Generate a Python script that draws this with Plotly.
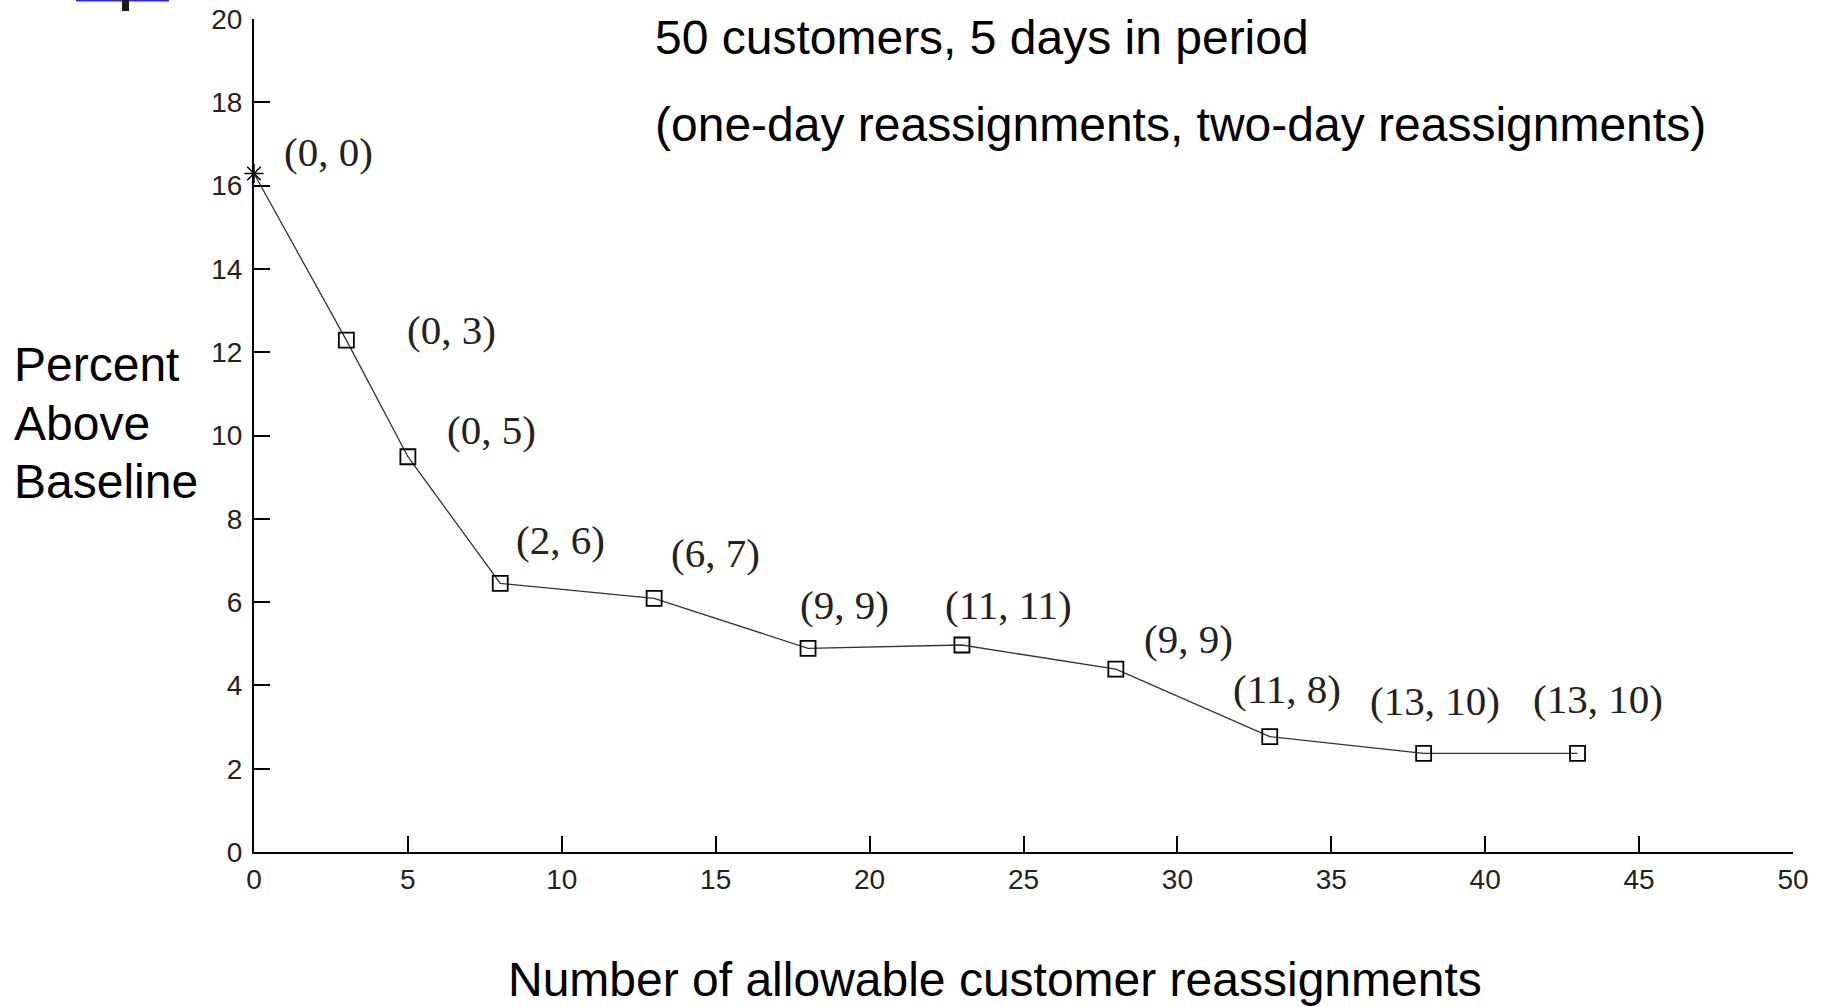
import plotly.graph_objects as go

# ---- data ----
reassignments = [0, 3, 5, 8, 13, 18, 23, 28, 33, 38, 43]
percent_above = [16.29, 12.29, 9.49, 6.45, 6.09, 4.89, 4.97, 4.39, 2.77, 2.37, 2.37]
point_labels = ["(0, 0)", "(0, 3)", "(0, 5)", "(2, 6)", "(6, 7)", "(9, 9)",
                "(11, 11)", "(9, 9)", "(11, 8)", "(13, 10)", "(13, 10)"]
x_ticks = [0, 5, 10, 15, 20, 25, 30, 35, 40, 45, 50]
y_ticks = [0, 2, 4, 6, 8, 10, 12, 14, 16, 18, 20]

title_line1 = "50 customers, 5 days in period"
title_line2 = "(one-day reassignments, two-day reassignments)"
y_title_lines = ["Percent", "Above", "Baseline"]
x_title = "Number of allowable customer reassignments"

# ---- layout geometry (pixels) ----
W, H = 1828, 1007
L, R, T, B = 254, 35, 19, 155
PW, PH = W - L - R, H - T - B

# label offsets from their point, in pixels (dx right, dy up)
label_dx = [74, 105, 84, 60, 61, 36, 47, 73, 17, 11, 20]
label_dy = [22, 10, 27, 43, 45, 43, 40, 30, 48, 52, 54]
y_title_centers = [365, 423, 481]


def px(xp):
    return (xp - L) / PW


def py(yp):
    return (H - B - yp) / PH


fig = go.Figure()

# line
fig.add_trace(go.Scatter(
    x=reassignments, y=percent_above, mode="lines",
    line=dict(color="#333333", width=1.3), showlegend=False, hoverinfo="skip"))
# star for first point
fig.add_trace(go.Scatter(
    x=reassignments[:1], y=percent_above[:1], mode="markers", cliponaxis=False,
    marker=dict(symbol="asterisk-open", size=16, color="black",
                line=dict(color="black", width=1.4)),
    showlegend=False))
# squares for the rest
fig.add_trace(go.Scatter(
    x=reassignments[1:], y=percent_above[1:], mode="markers", cliponaxis=False,
    marker=dict(symbol="square-open", size=15, color="black",
                line=dict(color="black", width=1.8)),
    showlegend=False))

annotations = []
for xv, yv, txt, dx, dy in zip(reassignments, percent_above, point_labels, label_dx, label_dy):
    annotations.append(dict(
        x=xv, y=yv, xref="x", yref="y", text=txt, showarrow=False,
        xshift=dx, yshift=dy, xanchor="center", yanchor="middle",
        font=dict(family="Liberation Serif", size=41, color="#222222")))

big_font = dict(family="Liberation Sans", size=48, color="black")
annotations += [
    dict(x=px(653), y=py(37), xref="paper", yref="paper", text=title_line1,
         showarrow=False, xanchor="left", yanchor="middle", font=big_font),
    dict(x=px(653), y=py(124), xref="paper", yref="paper", text=title_line2,
         showarrow=False, xanchor="left", yanchor="middle", font=big_font),
    dict(x=px(995), y=py(979), xref="paper", yref="paper", text=x_title,
         showarrow=False, xanchor="center", yanchor="middle", font=big_font),
]
for txt, yc in zip(y_title_lines, y_title_centers):
    annotations.append(dict(
        x=px(12), y=py(yc), xref="paper", yref="paper", text=txt,
        showarrow=False, xanchor="left", yanchor="middle", font=big_font))

shapes = [
    dict(type="rect", xref="paper", yref="paper", x0=px(76), x1=px(169),
         y0=py(1.5), y1=py(0), fillcolor="#2b2bd9", line=dict(width=0)),
    dict(type="rect", xref="paper", yref="paper", x0=px(122), x1=px(129),
         y0=py(11), y1=py(0), fillcolor="#1a1a1a", line=dict(width=0)),
]

axis_common = dict(
    showgrid=False, zeroline=False, showline=True, linecolor="black",
    linewidth=2, ticks="inside", ticklen=16, tickwidth=2, tickcolor="black",
    tickfont=dict(family="Liberation Sans", size=28, color="#222222"),
    mirror=False, automargin=False,
)

fig.update_layout(
    width=W, height=H,
    margin=dict(l=L, r=R, t=T, b=B, pad=0, autoexpand=False),
    paper_bgcolor="white", plot_bgcolor="white",
    xaxis=dict(range=[0, 50], tickvals=x_ticks, ticklabelstandoff=1, **axis_common),
    yaxis=dict(range=[0, 20], tickvals=y_ticks, ticklabelstandoff=4, **axis_common),
    annotations=annotations, shapes=shapes,
    showlegend=False,
)

post = (
    "document.body.style.margin='0';"
    "document.body.style.padding='0';"
    "document.body.style.overflow='hidden';"
    "var gd=document.getElementById('{plot_id}');"
    "gd.style.position='fixed';gd.style.top='0px';gd.style.left='0px';"
)

fig.write_html("out.html", config={"displayModeBar": False}, post_script=post)
